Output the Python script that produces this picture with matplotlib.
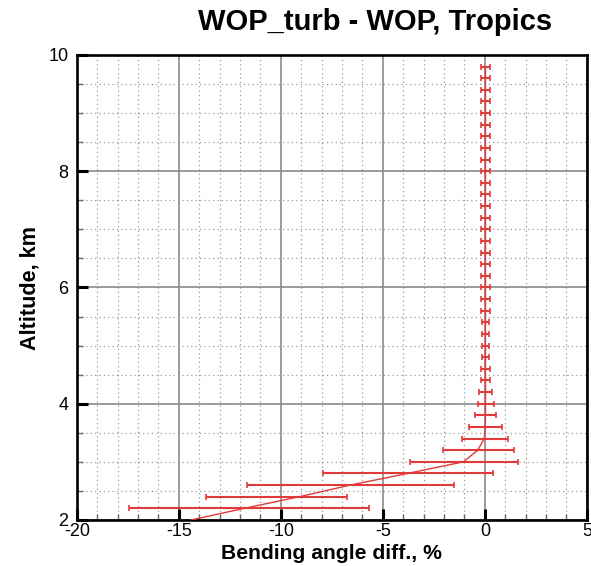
import numpy as np
import matplotlib
matplotlib.use('Agg')
import matplotlib.pyplot as plt
from matplotlib.ticker import MultipleLocator

plt.rcParams['font.family'] = ['Liberation Sans', 'DejaVu Sans']
plt.rcParams['axes.unicode_minus'] = False

# mean profile (line)
alt_line = [2.0, 2.2, 2.4, 2.6, 2.8, 3.0, 3.2, 3.4, 3.6, 3.8, 4.0, 4.2, 4.4, 4.6,
            4.8, 5.0, 5.2, 5.4, 5.6, 5.8, 6.0, 6.2, 6.4, 6.6, 6.8, 7.0, 7.2, 7.4,
            7.6, 7.8, 8.0, 8.2, 8.4, 8.6, 8.8, 9.0, 9.2, 9.4, 9.6, 9.8]
mean_line = [-14.4, -11.8, -9.1, -6.6, -3.8, -1.05, -0.35, -0.03, 0.02, 0.03, 0.03, 0.03, 0.03, 0.03,
             0.03, 0.03, 0.03, 0.03, 0.03, 0.03, 0.03, 0.03, 0.03, 0.03, 0.03, 0.03, 0.03, 0.03,
             0.03, 0.03, 0.03, 0.03, 0.03, 0.03, 0.03, 0.03, 0.03, 0.03, 0.03, 0.03]

# spread bars (lower / upper ends)
alt_bar = alt_line[1:]
bar_lo = [-17.45, -13.68, -11.65, -7.93, -3.68, -2.04, -1.14, -0.77, -0.49, -0.36, -0.28, -0.21, -0.17,
          -0.12, -0.12, -0.12, -0.12, -0.17, -0.17, -0.17, -0.17, -0.17, -0.17, -0.17, -0.17,
          -0.17, -0.17, -0.17, -0.17, -0.17, -0.17, -0.17, -0.17, -0.17, -0.17, -0.17, -0.17, -0.17, -0.17]
bar_hi = [-5.69, -6.78, -1.52, 0.38, 1.63, 1.42, 1.14, 0.82, 0.57, 0.44, 0.33, 0.27, 0.23,
          0.18, 0.18, 0.18, 0.18, 0.23, 0.23, 0.23, 0.23, 0.23, 0.23, 0.23, 0.23,
          0.23, 0.23, 0.23, 0.23, 0.23, 0.23, 0.23, 0.23, 0.23, 0.23, 0.23, 0.23, 0.23, 0.23]

x_ticks = [-20, -15, -10, -5, 0, 5]
y_ticks = [2, 4, 6, 8, 10]

red = '#e23a3a'

fig = plt.figure(figsize=(5.91, 5.66), dpi=100)
ax = fig.add_axes([0.130, 0.0813, 0.863, 0.8217])

# bar centres taken from the mean line at the same altitudes
centre = np.interp(alt_bar, alt_line, mean_line)
err = [centre - np.array(bar_lo), np.array(bar_hi) - centre]
ax.errorbar(centre, alt_bar, xerr=err, fmt='none', ecolor=red, elinewidth=1.5,
            capsize=2.5, capthick=1.2, zorder=3)
ax.plot(mean_line, alt_line, '-', color=red, lw=1.0, zorder=4)

ax.set_xlim(-20, 5)
ax.set_ylim(2, 10)
ax.set_xticks(x_ticks)
ax.set_yticks(y_ticks)
ax.xaxis.set_minor_locator(MultipleLocator(1))
ax.yaxis.set_minor_locator(MultipleLocator(0.5))

ax.grid(which='major', color='#8a8a8a', lw=1.2, ls='-')
ax.grid(which='minor', color='#999999', lw=0.9, ls=(0, (1, 2.5)))
ax.set_axisbelow(True)

ax.tick_params(which='major', direction='in', length=8, width=2.2, color='black',
               labelsize=13, top=False, right=False)
ax.tick_params(axis='x', which='major', pad=2)
ax.tick_params(axis='y', which='major', pad=6)
ax.tick_params(which='minor', direction='in', length=4, width=1, color='#666666',
               top=False, right=False)
for s in ax.spines.values():
    s.set_linewidth(1.9)

fig.text(0.635, 0.962, 'WOP_turb - WOP, Tropics', ha='center', va='center',
         fontsize=21, fontweight='bold')
fig.text(0.560, 0.022, 'Bending angle diff., %', ha='center', va='center',
         fontsize=15.2, fontweight='bold')
fig.text(0.050, 0.491, 'Altitude, km', ha='center', va='center', rotation=90,
         fontsize=15.6, fontweight='bold')

fig.savefig('out.png', dpi=100)
